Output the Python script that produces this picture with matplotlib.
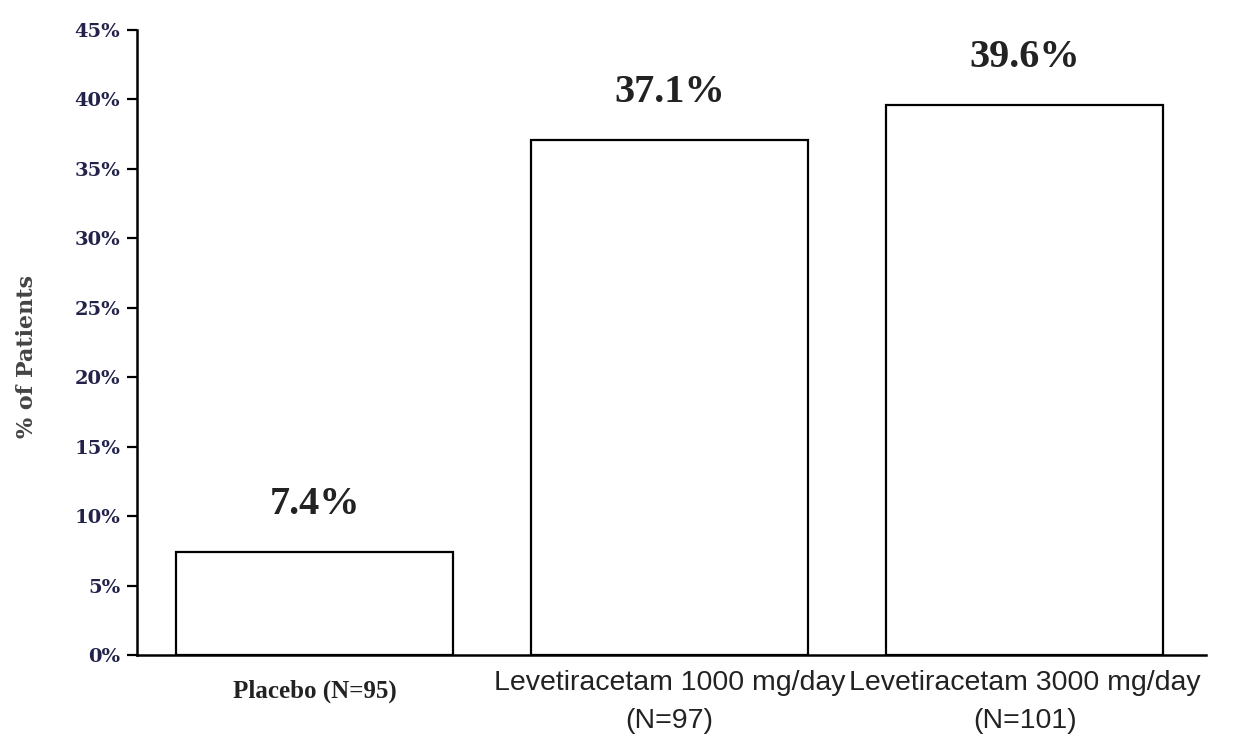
import numpy as np
import matplotlib.pyplot as plt
from matplotlib.ticker import FuncFormatter

groups = ["Placebo (N=95)", "Levetiracetam 1000 mg/day\n(N=97)", "Levetiracetam 3000 mg/day\n(N=101)"]
values = [7.4, 37.1, 39.6]
value_labels = ["7.4%", "37.1%", "39.6%"]
yticks = [0, 5, 10, 15, 20, 25, 30, 35, 40, 45]

fig = plt.figure(figsize=(12.51, 7.47), dpi=100)
ax = fig.add_axes([0.1095, 0.1232, 0.8545, 0.8368])

x = np.arange(len(groups))
ax.bar(x, values, width=0.78, color='white', edgecolor='black', linewidth=1.6, zorder=2)

for xi, v, lab in zip(x, values, value_labels):
    ax.annotate(lab, (xi, v), xytext=(0, 34), textcoords='offset points',
                ha='center', va='center', fontsize=29, fontweight='bold',
                family='Liberation Serif', color='#222222')

ax.set_xlim(-0.5, 2.51)
ax.set_ylim(0, 45)
ax.set_yticks(yticks)
ax.yaxis.set_major_formatter(FuncFormatter(lambda v, p: f"{v:.0f}%"))
for t in ax.get_yticklabels():
    t.set_family('DejaVu Serif')
    t.set_fontweight('bold')
    t.set_fontsize(14)
    t.set_color('#22224a')
ax.tick_params(axis='y', direction='out', length=7, width=1.6, pad=5)
ax.tick_params(axis='x', length=0, labelbottom=False)

ax.spines['top'].set_visible(False)
ax.spines['right'].set_visible(False)
ax.spines['left'].set_linewidth(1.8)
ax.spines['bottom'].set_linewidth(1.8)

ax.set_ylabel("% of Patients", family='DejaVu Serif', fontweight='bold',
              fontsize=16, color='#444444')
ax.yaxis.set_label_coords(-0.093, 0.477)

# category labels under the bars
trans = ax.get_xaxis_transform()
ax.text(x[0], -0.058, groups[0], transform=trans, ha='center', va='center',
        family='Liberation Serif', fontweight='bold', fontsize=18, color='#222222')
for xi, g in zip(x[1:], groups[1:]):
    ax.text(xi, -0.024, g, transform=trans, ha='center', va='top',
            family='Liberation Sans', fontsize=20.5,
            linespacing=1.6, color='#222222')

plt.savefig('out.png', dpi=100)
